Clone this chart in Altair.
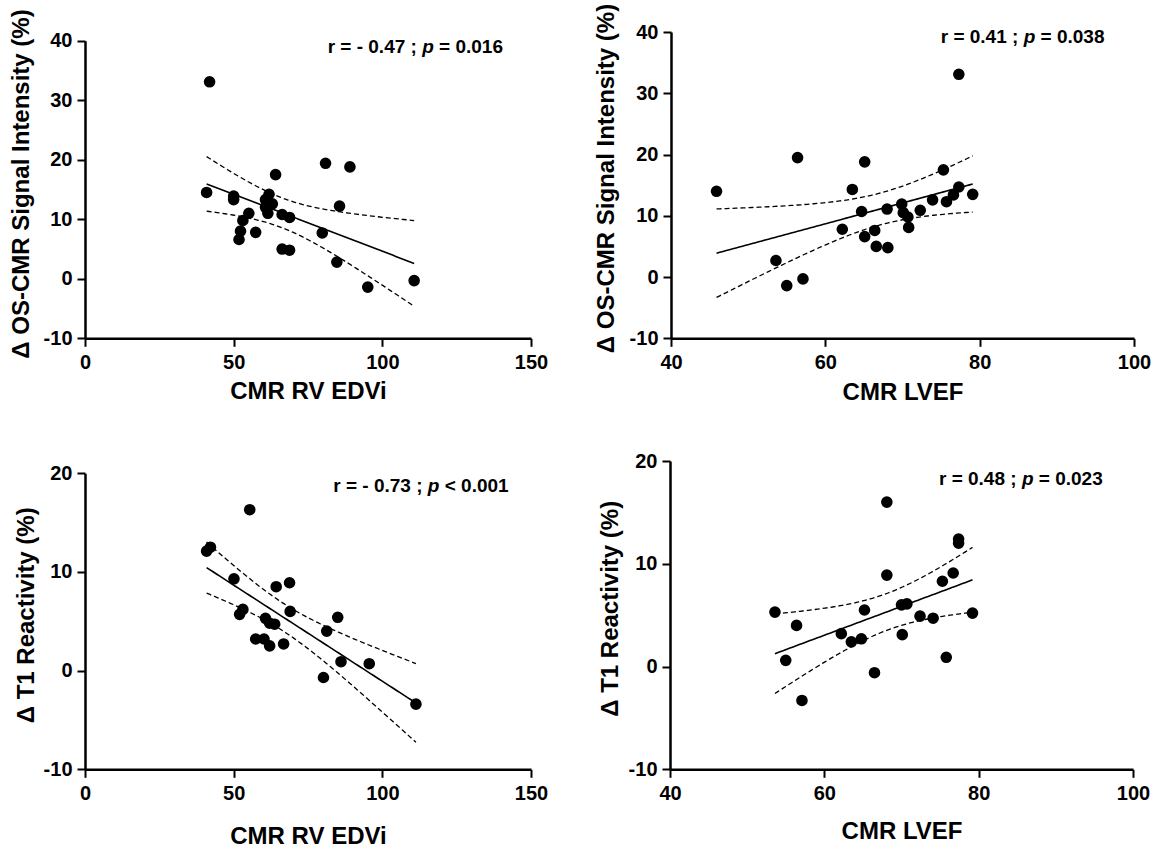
import altair as alt
import numpy as np
import pandas as pd

# ---------------- data ----------------
# Panel A: CMR RV EDVi vs delta OS-CMR signal intensity (n = 26)
rv_a = [41.9, 40.9, 50.0, 50.0, 55.1, 53.1, 52.3, 51.8, 57.4, 61.9, 60.7, 63.0, 60.7,
        61.5, 64.1, 66.3, 68.8, 66.3, 68.8, 80.9, 89.1, 85.6, 79.8, 84.7, 95.1, 110.7]
os_a = [33.1, 14.5, 13.9, 13.3, 11.0, 9.8, 8.0, 6.6, 7.8, 14.2, 13.3, 12.6, 12.0,
        11.0, 17.5, 10.8, 10.3, 5.0, 4.8, 19.4, 18.8, 12.2, 7.7, 2.8, -1.4, -0.3]

# Panel B: CMR LVEF vs delta OS-CMR signal intensity (n = 26)
ef_b = [45.9, 56.4, 53.6, 55.0, 57.1, 62.2, 63.5, 64.7, 65.1, 65.1, 66.4, 66.6, 68.1,
        68.0, 69.9, 70.1, 70.7, 70.8, 72.3, 73.9, 75.3, 75.7, 76.6, 77.3, 77.3, 79.1]
os_b = [14.0, 19.5, 2.7, -1.4, -0.3, 7.8, 14.3, 10.7, 18.8, 6.6, 7.6, 5.0, 4.8,
        11.1, 11.9, 10.5, 9.8, 8.1, 10.9, 12.6, 17.5, 12.3, 13.4, 14.7, 33.1, 13.5]

# Panel C: CMR RV EDVi vs delta T1 reactivity (n = 22)
rv_c = [42.2, 40.9, 55.4, 50.1, 64.3, 68.8, 53.1, 52.0, 60.7, 62.1, 63.8, 69.0, 57.4,
        60.2, 62.1, 66.8, 85.0, 81.3, 86.1, 95.6, 80.2, 111.3]
t1_c = [12.5, 12.1, 16.3, 9.3, 8.5, 8.9, 6.2, 5.7, 5.3, 4.8, 4.7, 6.0, 3.2,
        3.2, 2.5, 2.7, 5.4, 4.0, 0.9, 0.7, -0.7, -3.4]

# Panel D: CMR LVEF vs delta T1 reactivity (n = 22)
ef_d = [53.6, 55.0, 56.4, 57.1, 62.2, 63.5, 64.8, 65.2, 66.5, 68.1, 68.1, 70.0, 70.7,
        70.1, 72.4, 74.1, 75.3, 76.7, 75.8, 77.4, 77.4, 79.2]
t1_d = [5.3, 0.6, 4.0, -3.3, 3.2, 2.4, 2.7, 5.5, -0.6, 16.0, 8.9, 6.0, 6.1,
        3.1, 4.9, 4.7, 8.3, 9.1, 0.9, 12.4, 12.0, 5.2]

# annotation texts (before italic p, p, after p)
ann_a = ["r = - 0.47 ;", "p", "= 0.016"]
ann_b = ["r = 0.41 ;", "p", "= 0.038"]
ann_c = ["r = - 0.73 ;", "p", "< 0.001"]
ann_d = ["r = 0.48 ;", "p", "= 0.023"]

x_ticks_rv = [0, 50, 100, 150]
x_ticks_ef = [40, 60, 80, 100]
y_ticks_os = [-10, 0, 10, 20, 30, 40]
y_ticks_t1 = [-10, 0, 10, 20]

title_os = "Δ OS-CMR Signal Intensity (%)"
title_t1 = "Δ T1 Reactivity (%)"
title_rv = "CMR RV EDVi"
title_ef = "CMR LVEF"

# two-sided 95% t critical values
T_CRIT = {24: 2.0639, 20: 2.0860}

FONT = "Liberation Sans"
ANN_SIZE = 19


def fit_frame(xs, ys):
    x = np.asarray(xs, float)
    y = np.asarray(ys, float)
    n = len(x)
    b, a = np.polyfit(x, y, 1)
    xm = x.mean()
    sxx = ((x - xm) ** 2).sum()
    s = np.sqrt(((y - (a + b * x)) ** 2).sum() / (n - 2))
    gx = np.linspace(x.min(), x.max(), 80)
    fit = a + b * gx
    half = T_CRIT[n - 2] * s * np.sqrt(1.0 / n + (gx - xm) ** 2 / sxx)
    return pd.DataFrame({"x": gx, "fit": fit, "lo": fit - half, "hi": fit + half})


def panel(xs, ys, xdom, xvals, ydom, yvals, xtitle, ytitle, width, height, ytop,
          ttl_x, ttl_y, xttl_y, ann, ann_x, ann_y):
    pts = pd.DataFrame({"x": xs, "y": ys})
    fit = fit_frame(xs, ys)
    xscale = alt.Scale(domain=xdom, nice=False, zero=False)
    yscale = alt.Scale(domain=ydom, nice=False, zero=False, range=[height, ytop])
    xaxis = alt.Axis(values=xvals, title=xtitle, titleY=xttl_y, titleBaseline="middle",
                     labelExpr="datum.value + ''", labelFlush=False, labelOverlap=False,
                     labelPadding=6, grid=False)
    yaxis = alt.Axis(values=yvals, title=ytitle, titleX=ttl_x, titleY=ttl_y,
                     titleAngle=270, titleAlign="center", titleBaseline="middle",
                     labelExpr="datum.value + ''", labelOverlap=False,
                     labelPadding=5, grid=False)
    points = alt.Chart(pts).mark_circle(size=135, color="black", opacity=1).encode(
        x=alt.X("x:Q", scale=xscale, axis=xaxis),
        y=alt.Y("y:Q", scale=yscale, axis=yaxis),
    )
    base = alt.Chart(fit).encode(x=alt.X("x:Q", scale=xscale, axis=xaxis))
    line = base.mark_line(color="black", strokeWidth=1.6).encode(
        y=alt.Y("fit:Q", scale=yscale, axis=yaxis))
    lo = base.mark_line(color="black", strokeWidth=1.3, strokeDash=[5, 3]).encode(
        y=alt.Y("lo:Q", scale=yscale, axis=yaxis))
    hi = base.mark_line(color="black", strokeWidth=1.3, strokeDash=[5, 3]).encode(
        y=alt.Y("hi:Q", scale=yscale, axis=yaxis))

    one = pd.DataFrame({"k": [0]})
    sp = 0.278 * ANN_SIZE
    pw = 0.611 * ANN_SIZE
    common = dict(baseline="middle", font=FONT, fontWeight="bold", fontSize=ANN_SIZE,
                  color="black")
    enc = dict(x=alt.XDatum(ann_x, scale=xscale, axis=xaxis, type="quantitative"),
               y=alt.YDatum(ann_y, scale=yscale, axis=yaxis, type="quantitative"))
    tA = alt.Chart(one).mark_text(text=ann[0], align="right", dx=-sp, **common).encode(**enc)
    tB = alt.Chart(one).mark_text(text=ann[1], align="left", fontStyle="italic",
                                  **common).encode(**enc)
    tC = alt.Chart(one).mark_text(text=ann[2], align="left", dx=pw + sp,
                                  **common).encode(**enc)
    return alt.layer(points, line, lo, hi, tA, tB, tC).properties(width=width, height=height)


pA = panel(rv_a, os_a, [0, 150], x_ticks_rv, [-10, 40], y_ticks_os, title_rv, title_os,
           446, 306.3, 8.7, -63.5, 151.5, 52.7, ann_a, 113.4, 39.0)
pB = panel(ef_b, os_b, [40, 100], x_ticks_ef, [-10, 40], y_ticks_os, title_ef, title_os,
           463, 306.3, 0, -65, 146, 53.7, ann_b, 85.7, 39.2)
pC = panel(rv_c, t1_c, [0, 150], x_ticks_rv, [-10, 20], y_ticks_t1, title_rv, title_t1,
           446, 308.3, 12.2, -59, 153.8, 67.5, ann_c, 115.3, 18.7)
pD = panel(ef_d, t1_d, [40, 100], x_ticks_ef, [-10, 20], y_ticks_t1, title_ef, title_t1,
           463, 308.3, 0, -59.5, 147.3, 62, ann_d, 85.6, 18.2)

row1 = alt.hconcat(pA, pB, spacing=44)
row2 = alt.hconcat(pC, pD, spacing=49)

chart = alt.vconcat(row1, row2, spacing=45).properties(
    padding={"left": 8, "top": 2, "right": 5, "bottom": 0},
    background="white",
).configure_view(
    stroke="transparent"
).configure_axis(
    domainColor="black",
    domainWidth=2.5,
    tickColor="black",
    tickWidth=2,
    tickSize=8,
    labelFont=FONT,
    labelFontWeight="bold",
    labelFontSize=20,
    labelColor="black",
    titleFont=FONT,
    titleFontWeight="bold",
    titleFontSize=24,
    titleColor="black",
)

chart.save("out.html", embed_options={"renderer": "svg", "actions": False})
